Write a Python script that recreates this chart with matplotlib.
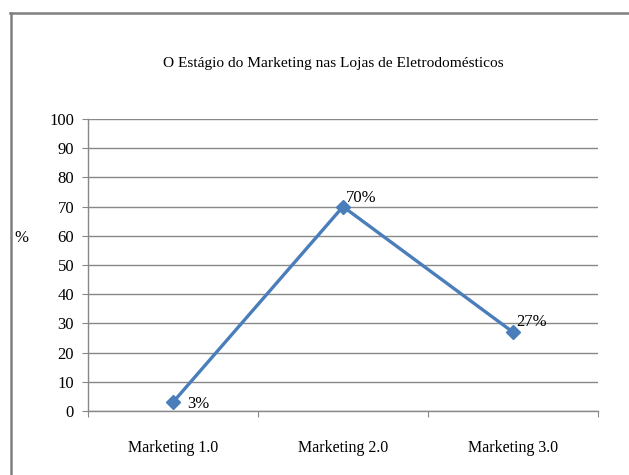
import matplotlib
matplotlib.use("Agg")
import matplotlib.pyplot as plt
from matplotlib.lines import Line2D

categories = ["Marketing 1.0", "Marketing 2.0", "Marketing 3.0"]
values = [3, 70, 27]
labels = ["3%", "70%", "27%"]
yticks = [0, 10, 20, 30, 40, 50, 60, 70, 80, 90, 100]
title = "O Estágio do Marketing nas Lojas de Eletrodomésticos"

plt.rcParams['font.family'] = ['Liberation Serif', 'DejaVu Serif']

W, H = 629, 475
fig = plt.figure(figsize=(W / 100, H / 100), dpi=100)
fig.patch.set_facecolor("white")

# axes: plot area x 88..598, y 119..411 (pixels from top)
ax = fig.add_axes([88 / W, 1 - 411 / H, (598 - 88) / W, (411 - 119) / H])
x = list(range(len(categories)))
ax.plot(x, values, color="#4A7EBB", linewidth=2.4, marker="D", markersize=7,
        markerfacecolor="#4A7EBB", markeredgecolor="#4A7EBB", zorder=3)
label_offsets = [(10, -1), (2, 6), (2, 7)]
for xi, v, lab, off in zip(x, values, labels, label_offsets):
    ax.annotate(lab, (xi, v), xytext=off, textcoords="offset points",
                ha="left", va="center", fontsize=12, color="black", zorder=4,
                annotation_clip=False)

ax.set_xlim(-0.5, 2.5)
ax.set_ylim(0, 100)
ax.set_yticks(yticks)
ax.set_yticklabels([str(t) for t in yticks], fontsize=12)
ax.yaxis.grid(True, color="#888888", linewidth=1)
ax.set_axisbelow(True)
ax.set_xticks([-0.5, 0.5, 1.5, 2.5])
ax.set_xticklabels([])
ax.set_xticks(x, minor=True)
ax.set_xticklabels(categories, minor=True, fontsize=11.5)
ax.tick_params(axis="x", which="minor", length=0, pad=21)
ax.tick_params(axis="x", which="major", length=4, color="#888888", direction="out")
ax.tick_params(axis="y", length=4, color="#888888", pad=6)
for s in ["top", "right"]:
    ax.spines[s].set_visible(False)
for s in ["left", "bottom"]:
    ax.spines[s].set_color("#888888")
    ax.spines[s].set_linewidth(1)

ax.set_ylabel("%", rotation=0, fontsize=12, labelpad=20)
ax.yaxis.set_label_coords(-0.13, 0.565)

fig.text(333 / W, 1 - 63 / H, title, ha="center", va="center", fontsize=11.1)

# chart border
fig.add_artist(Line2D([10 / W, 1], [1 - 13 / H, 1 - 13 / H], color="#808080", linewidth=1.8,
                      transform=fig.transFigure))
fig.add_artist(Line2D([11 / W, 11 / W], [1 - 13 / H, 0], color="#808080", linewidth=1.8,
                      transform=fig.transFigure))

fig.savefig("out.png", dpi=100)
